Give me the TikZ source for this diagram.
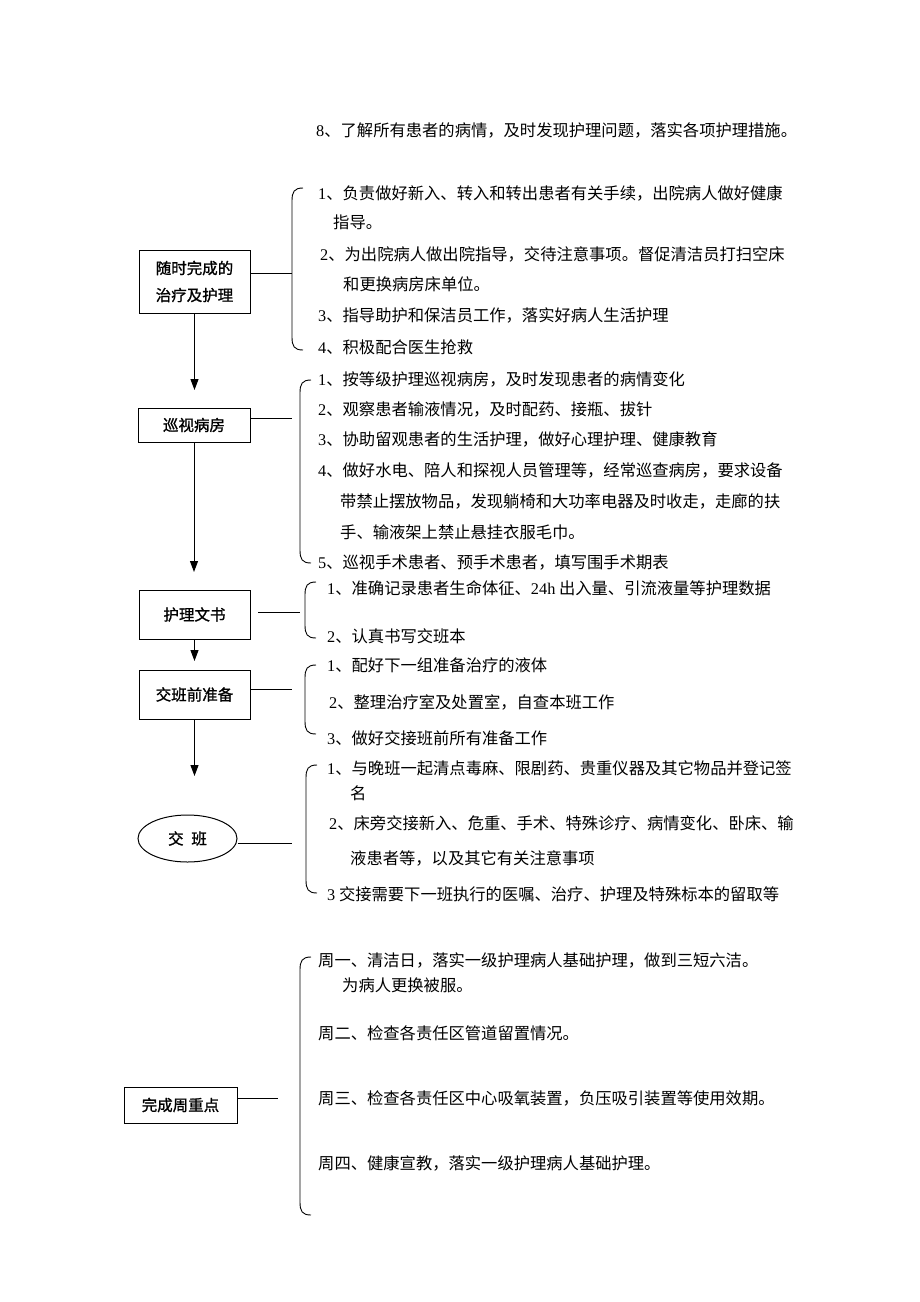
\documentclass[tikz,border=0pt]{standalone}
\usepackage{fontspec}
\setmainfont{Noto Sans CJK SC}
\newfontfamily\lat{Liberation Serif}
\newfontfamily\boxfont[FakeBold=1.2]{Noto Sans CJK SC}
\usetikzlibrary{arrows.meta,shapes.geometric}
\newcommand\brkt[3]{\draw[line width=0.9pt] (#1+11,#2) .. controls (#1+2,#2) and (#1,#2+4) .. (#1,#2+13) -- (#1,#3-13) .. controls (#1,#3-4) and (#1+2,#3) .. (#1+11,#3);}
\begin{document}
\begin{tikzpicture}[x=1pt,y=-1pt,
  every node/.style={inner sep=0pt},
  item/.style={anchor=west, font=\fontsize{16.3}{19}\selectfont},
  box/.style={draw, line width=1pt, align=center, font=\boxfont\fontsize{15.5}{27}\selectfont},
  conn/.style={line width=1pt},
  arr/.style={line width=1pt, -{Triangle[length=11pt,width=8pt]}}]
\useasboundingbox[fill=white] (0,0) rectangle (920,1302);

% top line
\node[item] (t0) at (316,130) {{\lat 8}、了解所有患者的病情，及时发现护理问题，落实各项护理措施。};

% block 1
\node[box, minimum width=111pt, minimum height=63pt] (b1) at (194.5,281.5) {随时完成的\\治疗及护理};
\coordinate (l1) at (292,273);
\draw[conn] (b1.east |- l1) -- (l1);
\brkt{292}{188}{350}
\node[item] (t1a) at (318,193) {{\lat 1}、负责做好新入、转入和转出患者有关手续，出院病人做好健康};
\node[item] (t1b) at (333,222) {指导。};
\node[item] (t1c) at (320,254) {{\lat 2}、为出院病人做出院指导，交待注意事项。督促清洁员打扫空床};
\node[item] (t1d) at (343,284) {和更换病房床单位。};
\node[item] (t1e) at (318,315) {{\lat 3}、指导助护和保洁员工作，落实好病人生活护理};
\node[item] (t1f) at (318,347) {{\lat 4}、积极配合医生抢救};

% block 2
\node[box, minimum width=112pt, minimum height=34pt] (b2) at (194,425) {巡视病房};
\coordinate (a1) at (195,390);
\draw[arr] (b1.south) -- (b1.south |- a1);
\coordinate (l2) at (292,418);
\draw[conn] (b2.east |- l2) -- (l2);
\brkt{300}{380}{563}
\node[item] (t2a) at (318,379) {{\lat 1}、按等级护理巡视病房，及时发现患者的病情变化};
\node[item] (t2b) at (318,409) {{\lat 2}、观察患者输液情况，及时配药、接瓶、拔针};
\node[item] (t2c) at (318,439) {{\lat 3}、协助留观患者的生活护理，做好心理护理、健康教育};
\node[item] (t2d) at (318,470) {{\lat 4}、做好水电、陪人和探视人员管理等，经常巡查病房，要求设备};
\node[item] (t2e) at (340,501) {带禁止摆放物品，发现躺椅和大功率电器及时收走，走廊的扶};
\node[item] (t2f) at (340,532) {手、输液架上禁止悬挂衣服毛巾。};
\node[item] (t2g) at (318,563) {{\lat 5}、巡视手术患者、预手术患者，填写围手术期表};

% block 3
\node[box, minimum width=111pt, minimum height=49pt] (b3) at (194.5,614.5) {护理文书};
\coordinate (a2) at (195,572);
\draw[arr] (b2.south) -- (b2.south |- a2);
\coordinate (l3s) at (258,612);
\coordinate (l3) at (300,612);
\draw[conn] (l3s) -- (l3);
\brkt{305}{582}{638}
\node[item] (t3a) at (327,588) {{\lat 1}、准确记录患者生命体征、{\lat 24h} 出入量、引流液量等护理数据};
\node[item] (t3b) at (327,636) {{\lat 2}、认真书写交班本};

% block 4
\node[box, minimum width=111pt, minimum height=49pt] (b4) at (194.5,694.5) {交班前准备};
\coordinate (a3) at (195,661);
\draw[arr] (b3.south) -- (b3.south |- a3);
\coordinate (l4) at (292,689);
\draw[conn] (b4.east |- l4) -- (l4);
\brkt{305}{665}{734}
\node[item] (t4a) at (327,665) {{\lat 1}、配好下一组准备治疗的液体};
\node[item] (t4b) at (329,702) {{\lat 2}、整理治疗室及处置室，自查本班工作};
\node[item] (t4c) at (327,738) {{\lat 3}、做好交接班前所有准备工作};

% block 5
\node[draw, ellipse, line width=1pt, minimum width=99pt, minimum height=47pt, font=\boxfont\fontsize{15.5}{18}\selectfont] (e5) at (187.5,838.5) {交\hspace{0.5em}班};
\coordinate (a4) at (195,776);
\draw[arr] (b4.south) -- (b4.south |- a4);
\coordinate (l5) at (292,843);
\draw[conn] (e5.east |- l5) -- (l5);
\brkt{306}{765}{893}
\node[item] (t5a) at (327,768) {{\lat 1}、与晚班一起清点毒麻、限剧药、贵重仪器及其它物品并登记签};
\node[item] (t5b) at (350,793) {名};
\node[item] (t5c) at (329,823) {{\lat 2}、床旁交接新入、危重、手术、特殊诊疗、病情变化、卧床、输};
\node[item] (t5d) at (350,858) {液患者等，以及其它有关注意事项};
\node[item] (t5e) at (327,894) {{\lat 3} 交接需要下一班执行的医嘱、治疗、护理及特殊标本的留取等};

% block 6
\node[box, minimum width=113pt, minimum height=36pt] (b6) at (180.5,1105) {完成周重点};
\coordinate (l6) at (278,1098);
\draw[conn] (b6.east |- l6) -- (l6);
\brkt{300}{957}{1215}
\node[item] (t6a) at (318,960) {周一、清洁日，落实一级护理病人基础护理，做到三短六洁。};
\node[item] (t6b) at (342,985) {为病人更换被服。};
\node[item] (t6c) at (318,1033) {周二、检查各责任区管道留置情况。};
\node[item] (t6d) at (318,1098) {周三、检查各责任区中心吸氧装置，负压吸引装置等使用效期。};
\node[item] (t6e) at (318,1163) {周四、健康宣教，落实一级护理病人基础护理。};
\end{tikzpicture}
\end{document}
